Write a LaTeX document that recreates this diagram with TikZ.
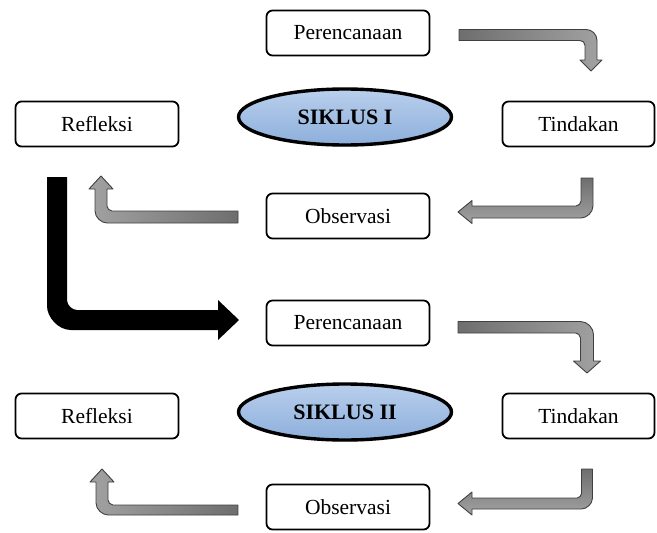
\documentclass[tikz,border=0pt]{standalone}
\usepackage{fontspec}
\setmainfont{Liberation Serif}
\usetikzlibrary{shapes.geometric,shadows}

\definecolor{arrowdark}{HTML}{6E6E6E}
\definecolor{arrowlight}{HTML}{A2A2A2}
\definecolor{ovaltop}{HTML}{B9CFEC}
\definecolor{ovalbottom}{HTML}{8DAFDC}

\tikzset{
	stagebox/.style={draw, rounded corners=6pt, line width=1.8pt, minimum width=163pt, minimum height=45pt, font=\fontsize{21.5}{25}\selectfont},
	siklus/.style={ellipse, draw, line width=3.4pt, minimum width=213pt, minimum height=56pt, top color=ovaltop, bottom color=ovalbottom, font=\fontsize{22}{26}\selectfont\bfseries, drop shadow={opacity=0.2, shadow xshift=1pt, shadow yshift=-2pt}},
	blockarrow/.style={draw=black!75, line width=0.9pt, line join=round}
}

\begin{document}
	\begin{tikzpicture}[x=1pt, y=-1pt]
		\useasboundingbox (0,0) rectangle (657,533);

		% siklus I
		\node[stagebox] (per1) at (348,33) {Perencanaan};
		\node[siklus] (sik1) at (345,117) {SIKLUS I};
		\node[stagebox] (ref1) at (97,124) {Refleksi};
		\node[stagebox, minimum width=152pt] (tin1) at (578.5,124) {Tindakan};
		\node[stagebox] (obs1) at (348,216) {Observasi};

		% siklus II
		\node[stagebox] (per2) at (348,323) {Perencanaan};
		\node[siklus] (sik2) at (345,412) {SIKLUS II};
		\node[stagebox] (ref2) at (97,416) {Refleksi};
		\node[stagebox, minimum width=152pt] (tin2) at (578.5,416) {Tindakan};
		\node[stagebox] (obs2) at (348,507) {Observasi};

		% perencanaan -> tindakan
		\draw[blockarrow, left color=arrowdark, right color=arrowlight] (459,29.5) -- (586,29.5) .. controls (592.1,29.5) and (597,34.4) .. (597,40.5) -- (597,60) -- (602,60) -- (591,71) -- (580,60) -- (585,60) -- (585,45.5) .. controls (585,42.7) and (582.8,40.5) .. (580,40.5) -- (459,40.5) -- cycle;
		\draw[blockarrow, left color=arrowdark, right color=arrowlight] (458,321.5) -- (580.5,321.5) .. controls (587.7,321.5) and (593.5,328.3) .. (593.5,334.5) -- (593.5,361) -- (600.5,361) -- (587,373) -- (573.5,361) -- (580.5,361) -- (580.5,338) .. controls (580.5,335.2) and (577.7,333) .. (575.5,333) -- (458,333) -- cycle;

		% tindakan -> observasi
		\draw[blockarrow, top color=arrowdark, bottom color=arrowlight] (581,178) -- (593,178) -- (593,206) .. controls (593,212.6) and (586.4,218) .. (581,218) -- (472,218) -- (472,223.5) -- (458,212) -- (472,200.5) -- (472,206) -- (576,206) .. controls (578.8,206) and (581,203.2) .. (581,201) -- cycle;
		\draw[blockarrow, top color=arrowdark, bottom color=arrowlight] (581.5,469) -- (592.5,469) -- (592.5,498) .. controls (592.5,504.1) and (586.4,509) .. (581.5,509) -- (472,509) -- (472,515) -- (458,503.5) -- (472,492) -- (472,498) -- (577,498) .. controls (579.5,498) and (581.5,495.5) .. (581.5,493.5) -- cycle;

		% observasi -> refleksi
		\draw[blockarrow, left color=arrowlight, right color=arrowdark] (238,211) -- (112,211) .. controls (109.2,211) and (107,208.2) .. (107,206) -- (107,189) -- (113,189) -- (101,176) -- (89,189) -- (95,189) -- (95,211) .. controls (95,217.6) and (101.6,223) .. (107,223) -- (238,223) -- cycle;
		\draw[blockarrow, left color=arrowlight, right color=arrowdark] (238,505) -- (113,505) .. controls (110.2,505) and (108,502.2) .. (108,500) -- (108,482) -- (114,482) -- (102,469) -- (90,482) -- (96,482) -- (96,503) .. controls (96,509.6) and (102.6,515) .. (108,515) -- (238,515) -- cycle;

		% refleksi I -> perencanaan II
		\fill[black] (47,177) -- (67,177) -- (67,300) .. controls (67,305.5) and (72.5,310) .. (77,310) -- (218,310) -- (218,300) -- (239,320) -- (218,340) -- (218,330) -- (71,330) .. controls (57.8,330) and (47,316.8) .. (47,306) -- cycle;
	\end{tikzpicture}
\end{document}
